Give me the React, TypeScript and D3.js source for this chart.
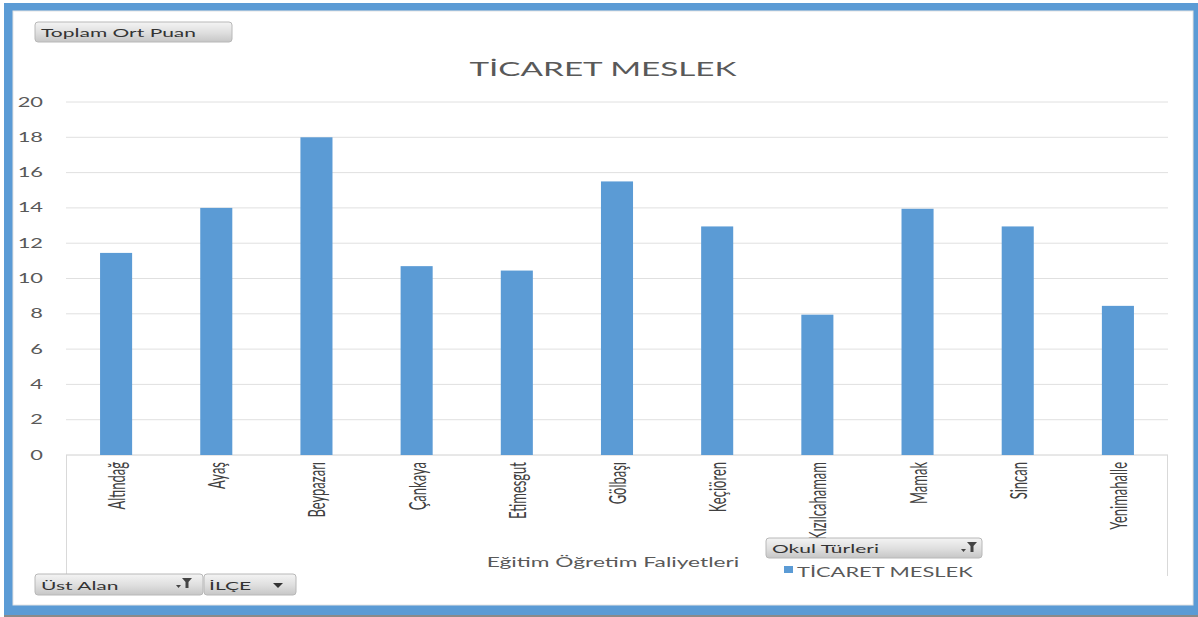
import React from "react";
import * as d3 from "d3";

const categories = ["Altındağ", "Ayaş", "Beypazarı", "Çankaya", "Etimesgut", "Gölbaşı", "Keçiören", "Kızılcahamam", "Mamak", "Sincan", "Yenimahalle"];
const values = [11.45, 14, 18, 10.7, 10.45, 15.5, 12.95, 7.95, 13.95, 12.95, 8.45];
const yTicks = [0, 2, 4, 6, 8, 10, 12, 14, 16, 18, 20];
const chartTitle = "TİCARET MESLEK";
const axisTitle = "Eğitim Öğretim Faliyetleri";
const legendLabel = "TİCARET MESLEK";
const valueButton = "Toplam Ort Puan";
const legendButton = "Okul Türleri";
const axisButtons = ["Üst Alan", "İLÇE"];

const W = 1198;
const H = 617;
const SX = 1.75;
const FONT = "Lato, 'Open Sans', sans-serif";
const BLUE = "#5b9bd5";
const GRAY = "#595959";

const x = d3.scaleBand<string>().domain(categories).range([66, 1168]).paddingInner(0.68).paddingOuter(0.34);
const y = d3.scaleLinear().domain([0, 20]).range([455, 102]);

function SText({ x, y, size, children, anchor = "start", fill = GRAY, rotate = 0, dy = "0" }: any) {
  return (
    <text
      transform={`translate(${x},${y}) scale(${SX},1)${rotate ? ` rotate(${rotate})` : ""}`}
      fontFamily={FONT}
      fontSize={size}
      textAnchor={anchor}
      fill={fill}
      dy={dy}
    >
      {children}
    </text>
  );
}

function FilterIcon({ x, y }: { x: number; y: number }) {
  return (
    <g transform={`translate(${x},${y})`} fill="#444">
      <path d="M6,0 L16,0 L12.5,4 L12.5,10 L9.5,10 L9.5,4 Z" />
      <path d="M0,7 L5,7 L2.5,10 Z" />
    </g>
  );
}

function Button({ x0, y0, w, h }: { x0: number; y0: number; w: number; h: number }) {
  return (
    <rect x={x0} y={y0} width={w} height={h} rx={3} ry={3} fill="url(#btnGrad)" stroke="#b8b8b8" strokeWidth={1} />
  );
}

export default function App() {
  const bw = x.bandwidth();
  return (
    <svg width={W} height={H} style={{ position: "absolute", left: 0, top: 0 }} xmlns="http://www.w3.org/2000/svg">
      <defs>
        <linearGradient id="btnGrad" x1="0" y1="0" x2="0" y2="1">
          <stop offset="0%" stopColor="#f4f4f4" />
          <stop offset="55%" stopColor="#dedede" />
          <stop offset="100%" stopColor="#c6c6c6" />
        </linearGradient>
      </defs>
      <rect x={0} y={0} width={W} height={H} fill="#ffffff" />
      <rect x={4} y={615} width={W - 4} height={2} fill="#8a8a8a" />
      <rect x={4} y={3} width={W - 4} height={612} fill={BLUE} />
      <rect x={13} y={11} width={1180} height={594} fill="#ffffff" stroke="#e4e4e4" strokeWidth={1} />

      {/* gridlines */}
      {yTicks.map((t) => (
        <line key={t} x1={66} x2={1168} y1={y(t)} y2={y(t)} stroke={t === 0 ? "#d0d0d0" : "#e0e0e0"} strokeWidth={1} />
      ))}
      <line x1={66.5} x2={66.5} y1={455} y2={574} stroke="#d9d9d9" />
      <line x1={1167.5} x2={1167.5} y1={455} y2={576} stroke="#d9d9d9" />

      {/* y tick labels */}
      {yTicks.map((t) => (
        <SText key={t} x={43} y={y(t) + 4.5} size={12.5} anchor="end">
          {t}
        </SText>
      ))}

      {/* bars */}
      {categories.map((c, i) => (
        <rect key={c} x={x(c)} y={y(values[i])} width={bw} height={y(0) - y(values[i])} fill={BLUE} />
      ))}

      {/* category labels */}
      {categories.map((c) => (
        <SText key={c} x={(x(c) as number) + bw / 2 + 1} y={462} size={13} anchor="end" rotate={-90} dy="0.35em" fill="#404040">
          {c}
        </SText>
      ))}

      {/* title */}
      <SText x={603} y={76} size={19} anchor="middle" fill={GRAY}>
        {chartTitle}
      </SText>

      {/* axis title */}
      <SText x={613} y={567} size={13} anchor="middle" fill={GRAY}>
        {axisTitle}
      </SText>

      {/* value field button */}
      <Button x0={35} y0={22} w={197} h={20} />
      <SText x={41} y={36.5} size={12} fill="#333">
        {valueButton}
      </SText>

      {/* legend field button */}
      <Button x0={766} y0={538} w={216} h={20} />
      <SText x={772} y={553} size={12} fill="#333">
        {legendButton}
      </SText>
      <FilterIcon x={961} y={542} />

      {/* legend */}
      <rect x={784} y={566} width={9} height={7} fill={BLUE} />
      <SText x={797} y={577} size={12.5} fill={GRAY}>
        {legendLabel}
      </SText>

      {/* axis field buttons */}
      <Button x0={35} y0={574} w={168} h={21} />
      <SText x={41} y={589.5} size={12} fill="#333">
        {axisButtons[0]}
      </SText>
      <FilterIcon x={176} y={578} />
      <Button x0={204} y0={574} w={92} h={21} />
      <SText x={209} y={589.5} size={12} fill="#333">
        {axisButtons[1]}
      </SText>
      <path d="M273,583 L283,583 L278,588 Z" fill="#333" />
    </svg>
  );
}
